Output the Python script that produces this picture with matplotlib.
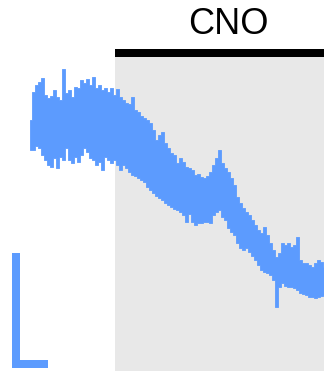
import numpy as np
import matplotlib
matplotlib.use("Agg")
import matplotlib.pyplot as plt
from matplotlib.patches import Rectangle

# Peak excursions of the recording, sampled every 3 s (arbitrary signal units)
time_s = np.arange(0, 297, 3)
upper = [180, 208, 215, 218, 222, 205, 202, 204, 210, 203,
         200, 231, 207, 210, 203, 213, 212, 220, 217, 221,
         215, 223, 212, 215, 210, 212, 208, 212, 205, 211,
         203, 200, 197, 196, 203, 190, 188, 184, 182, 180,
         177, 170, 160, 165, 168, 157, 152, 147, 145, 137,
         142, 138, 133, 132, 130, 125, 126, 123, 122, 124,
         128, 135, 142, 150, 137, 132, 128, 122, 115, 103,
         97, 92, 88, 85, 80, 75, 70, 67, 73, 65,
         57, 50, 43, 47, 57, 55, 57, 53, 55, 63,
         40, 37, 37, 35, 33, 37, 40, 38, 33]
lower = [150, 150, 154, 152, 145, 140, 135, 133, 142, 132,
         143, 140, 152, 140, 137, 143, 138, 145, 152, 148,
         142, 140, 135, 138, 130, 143, 140, 137, 140, 135,
         130, 135, 132, 128, 125, 124, 122, 120, 118, 113,
         110, 107, 104, 102, 100, 97, 95, 93, 91, 90,
         88, 85, 78, 86, 78, 75, 77, 77, 78, 78,
         77, 85, 88, 90, 83, 80, 72, 68, 65, 57,
         52, 50, 52, 48, 44, 40, 35, 30, 28, 27,
         25, 20, -7, 13, 17, 14, 13, 13, 12, 10,
         7, 6, 5, 3, 3, 2, 3, 4, 5]

cno_start = 85
cno_end = 294
label = "CNO"

trace_color = "#5c9bfe"
shade_color = "#e8e8e8"

fig = plt.figure(figsize=(3.24, 3.71), dpi=100)
ax = fig.add_axes([0, 0, 1, 1])
ax.set_xlim(-30, 294)
ax.set_ylim(-71, 300)
ax.axis("off")

# Drug application period
ax.add_patch(Rectangle((cno_start, -71), cno_end - cno_start, 314,
                       facecolor=shade_color, edgecolor="none", zorder=0))
ax.add_patch(Rectangle((cno_start, 243), cno_end - cno_start, 8,
                       facecolor="black", edgecolor="none", zorder=2))
ax.text((cno_start + cno_end) / 2 + 8.5, 275, label, ha="center", va="center",
        fontsize=26, family="Liberation Sans", color="black")

# Trace drawn as its excursion band
ax.fill_between(time_s, lower, upper, step="mid", color=trace_color,
                linewidth=0.6, edgecolor=trace_color, zorder=3)

# Scale bar
ax.plot([-14, -14, 14], [43, -63.5, -63.5], color=trace_color, lw=5.76,
        solid_capstyle="projecting", solid_joinstyle="miter", zorder=3)

fig.savefig("out.png", dpi=100)
